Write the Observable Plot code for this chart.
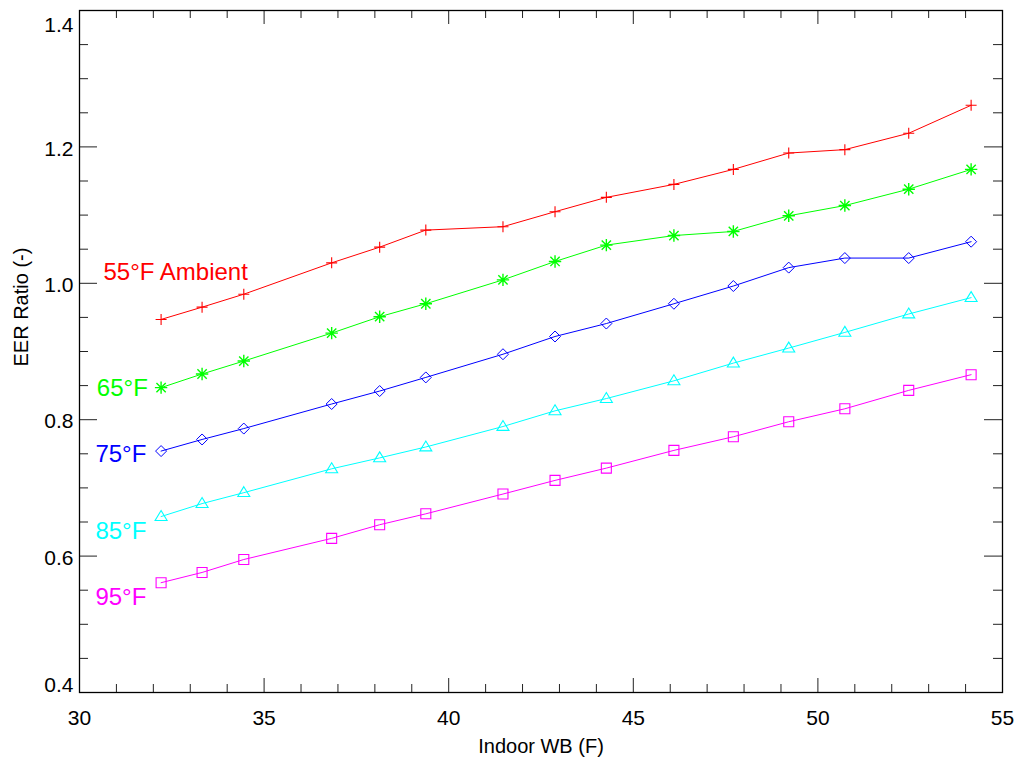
<!DOCTYPE html>
<html><head><meta charset="utf-8">
<script src="https://cdn.jsdelivr.net/npm/d3@7"></script>
<script src="https://cdn.jsdelivr.net/npm/@observablehq/plot@0.6"></script>
<style>body{margin:0;background:#fff;} #chart svg{display:block}</style>
</head><body><div id="chart"></div>
<script>
// ---- data ----
const indoorWB = [32.21, 33.32, 34.45, 36.83, 38.13, 39.38, 41.47, 42.88, 44.27, 46.10, 47.71, 49.21, 50.73, 52.46, 54.15];
const eer55 = [0.947, 0.965, 0.984, 1.030, 1.053, 1.078, 1.083, 1.105, 1.126, 1.145, 1.167, 1.191, 1.196, 1.220, 1.261];
const eer65 = [0.847, 0.867, 0.886, 0.927, 0.951, 0.970, 1.005, 1.032, 1.056, 1.070, 1.076, 1.099, 1.114, 1.138, 1.167];
const eer75 = [0.754, 0.771, 0.787, 0.823, 0.842, 0.862, 0.896, 0.922, 0.941, 0.970, 0.996, 1.023, 1.037, 1.037, 1.061];
const eer85 = [0.658, 0.677, 0.693, 0.728, 0.744, 0.760, 0.790, 0.813, 0.831, 0.857, 0.883, 0.905, 0.928, 0.955, 0.979];
const eer95 = [0.561, 0.576, 0.595, 0.626, 0.646, 0.662, 0.691, 0.711, 0.729, 0.755, 0.775, 0.797, 0.816, 0.843, 0.866];

const seriesNames  = ["55", "65", "75", "85", "95"];
const seriesColors = ["#ff0000", "#00ff00", "#0000ff", "#00ffff", "#ff00ff"];
const labelTexts   = ["55°F Ambient", "65°F", "75°F", "85°F", "95°F"];
const labelX       = [30.65, 30.47, 30.43, 30.43, 30.43];
const labelY       = [1.016, 0.846, 0.749, 0.637, 0.539];

const xMajor = [30, 35, 40, 45, 50, 55];
const xMinor = [31, 32, 33, 34, 36, 37, 38, 39, 41, 42, 43, 44, 46, 47, 48, 49, 51, 52, 53, 54];
const yMajor = [0.4, 0.6, 0.8, 1.0, 1.2, 1.4];
const yMinor = [0.45, 0.5, 0.55, 0.65, 0.7, 0.75, 0.85, 0.9, 0.95, 1.05, 1.1, 1.15, 1.25, 1.3, 1.35];

const xTitle = "Indoor WB (F)";
const yTitle = "EER Ratio (-)";

// ---- build table ----
const allSeries = [eer55, eer65, eer75, eer85, eer95];
const rows = [];
allSeries.forEach((vals, s) => vals.forEach((v, i) => rows.push({series: seriesNames[s], x: indoorWB[i], y: v})));
const labels = labelTexts.map((t, i) => ({text: t, x: labelX[i], y: labelY[i], color: seriesColors[i]}));

// ---- outline symbols (IDL-like) ----
const R = s => Math.sqrt(s / Math.PI);
const symPlus = {draw(c, s) { const r = R(s); c.moveTo(-r, 0); c.lineTo(r, 0); c.moveTo(0, -r); c.lineTo(0, r); }};
const symAst = {draw(c, s) { const r = R(s), d = r * 0.75;
  c.moveTo(0, -r); c.lineTo(0, r); c.moveTo(-r, 0); c.lineTo(r, 0);
  c.moveTo(-d, -d); c.lineTo(d, d); c.moveTo(-d, d); c.lineTo(d, -d); }};
const symDiamond = {draw(c, s) { const r = R(s); c.moveTo(0, -r); c.lineTo(r, 0); c.lineTo(0, r); c.lineTo(-r, 0); c.closePath(); }};
const symTri = {draw(c, s) { const r = R(s); c.moveTo(0, -r); c.lineTo(r, r * 0.65); c.lineTo(-r, r * 0.65); c.closePath(); }};
const symSquare = {draw(c, s) { const r = R(s); c.rect(-r, -r, 2 * r, 2 * r); }};
const symbols = [symPlus, symAst, symDiamond, symTri, symSquare];
const symR = [5.5, 6.2, 5.5, 6, 5];
const symW = [1.1, 1.4, 1, 1.1, 1.1];

const W = 1019, H = 771, mL = 79, mR = 17, mT = 10, mB = 79;
const iw = W - mL - mR, ih = H - mT - mB;
const tickStroke = "#222";
const yFmt = d => d.toFixed(1);

const marks = [
  Plot.axisX({ticks: xMajor, tickSize: 0, tickPadding: 18, fontSize: 21, label: null, tickFormat: d => String(d)}),
  Plot.axisY({ticks: yMajor.slice(1, -1), tickSize: 0, tickPadding: 6, dy: 2, fontSize: 21, label: null, tickFormat: yFmt}),
  Plot.axisY({ticks: yMajor.slice(-1), tickSize: 0, tickPadding: 6, dy: 15, fontSize: 21, label: null, tickFormat: yFmt}),
  Plot.axisY({ticks: yMajor.slice(0, 1), tickSize: 0, tickPadding: 6, dy: -7, fontSize: 21, label: null, tickFormat: yFmt}),
  Plot.tickX(xMajor, {x: d => d, insetTop: ih - 14, stroke: tickStroke}),
  Plot.tickX(xMajor, {x: d => d, insetBottom: ih - 14, stroke: tickStroke}),
  Plot.tickX(xMinor, {x: d => d, insetTop: ih - 8, stroke: tickStroke}),
  Plot.tickX(xMinor, {x: d => d, insetBottom: ih - 8, stroke: tickStroke}),
  Plot.tickY(yMajor, {y: d => d, insetRight: iw - 18, stroke: tickStroke}),
  Plot.tickY(yMajor, {y: d => d, insetLeft: iw - 18, stroke: tickStroke}),
  Plot.tickY(yMinor, {y: d => d, insetRight: iw - 9, stroke: tickStroke}),
  Plot.tickY(yMinor, {y: d => d, insetLeft: iw - 9, stroke: tickStroke}),
  Plot.frame({stroke: "black", strokeWidth: 1.3})
];
seriesNames.forEach((name, s) => {
  const data = rows.filter(d => d.series === name);
  marks.push(Plot.line(data, {x: "x", y: "y", stroke: seriesColors[s], strokeWidth: 1}));
  marks.push(Plot.dot(data, {x: "x", y: "y", symbol: symbols[s], r: symR[s], stroke: seriesColors[s], fill: "none", strokeWidth: symW[s]}));
});
marks.push(Plot.text(labels, {x: "x", y: "y", text: "text", fill: "color", textAnchor: "start", fontSize: 24}));
marks.push(Plot.text([xTitle], {text: d => d, frameAnchor: "bottom", dy: 60, fontSize: 20, fill: "black"}));
marks.push(Plot.text([yTitle], {text: d => d, frameAnchor: "left", rotate: -90, dx: -58, dy: 15, fontSize: 20, fill: "black"}));

const chart = Plot.plot({
  width: W, height: H,
  marginLeft: mL, marginRight: mR, marginTop: mT, marginBottom: mB,
  style: {fontFamily: "'Liberation Sans', Arial, Helvetica, sans-serif", fontSize: "21px", background: "white", color: "black"},
  x: {domain: [30, 55]},
  y: {domain: [0.4, 1.4]},
  marks
});
document.getElementById("chart").append(chart);
</script>
</body></html>
